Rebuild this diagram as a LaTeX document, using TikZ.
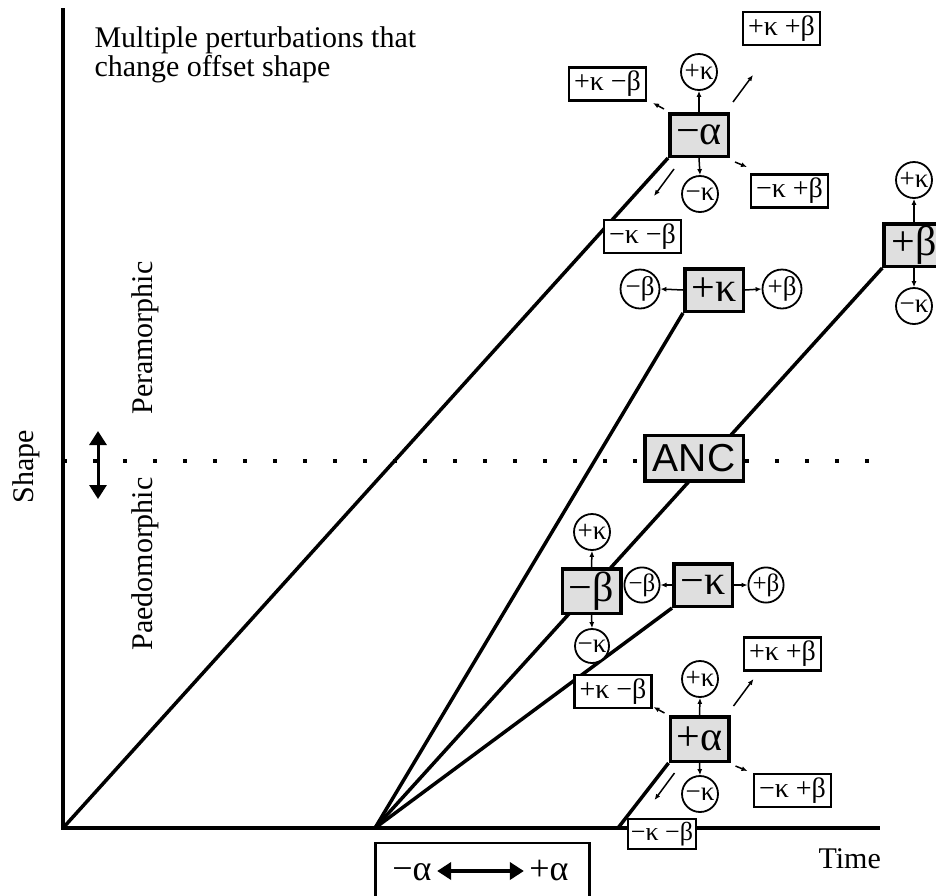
\documentclass[tikz,border=0pt]{standalone}
\usepackage{fontspec}
\setmainfont{Liberation Serif}
\newfontfamily\ancfont{Liberation Sans}
\usetikzlibrary{arrows.meta,calc,backgrounds}
\begin{document}
\begin{tikzpicture}[x=1pt,y=-1pt,
  bigbox/.style={draw=black, line width=3.5pt, fill=gray!25, minimum width=58.5pt, minimum height=42.5pt, inner sep=0pt, font=\fontsize{42}{42}\selectfont},
  combo/.style={draw=black, line width=2.2pt, fill=white, minimum width=77pt, minimum height=33pt, inner sep=0pt, font=\fontsize{28}{28}\selectfont},
  circ/.style={circle, draw=black, line width=1.8pt, fill=white, minimum size=36pt, inner sep=0pt, font=\fontsize{27}{27}\selectfont},
  axisline/.style={line width=4.5pt},
  traj/.style={line width=3.5pt},
  sarr/.style={line width=1.5pt, -{Latex[length=6pt,width=5pt]}},
  lbl/.style={font=\fontsize{30}{29}\selectfont},
  dotl/.style={line width=4pt, dash pattern=on 4pt off 26pt},
  dblarr/.style={{Triangle[length=14pt,width=17pt]}-{Triangle[length=14pt,width=17pt]}},
]
\useasboundingbox (0,0) rectangle (936,895);

% coordinates
\coordinate (top) at (63,8);
\coordinate (O) at (63,828);
\coordinate (xend) at (880,828);
\coordinate (F) at (375,828);
\coordinate (A2) at (618,828);
\coordinate (d0) at (63,461);
\coordinate (d1) at (872,461);
\coordinate (u1) at (98,431);
\coordinate (u2) at (98,499);

% labels
\node[lbl, anchor=base west] (title1) at (91,47) {Multiple perturbations that};
\node[lbl, anchor=base west] (title2) at (91,76) {change offset shape};
\node[lbl, anchor=base west] (time) at (815,868) {Time};
\node[lbl, rotate=90, anchor=base] (shape) at (33,467) {Shape};
\node[lbl, rotate=90, anchor=base] (pera) at (152,338) {Peramorphic};
\node[lbl, rotate=90, anchor=base] (paedo) at (152,564) {Paedomorphic};

% ANC
\node[bigbox, minimum width=98.5pt, minimum height=45.5pt, font=\ancfont\fontsize{39}{39}\selectfont] (anc) at (694,458) {ANC};

% -alpha cluster
\node[bigbox] (ma) at (699,135) {−α};
\node[circ] (ma-pk) at (699,72) {+κ};
\node[circ] (ma-mk) at (700,194) {−κ};
\node[combo] (ma-pkmb) at (607.5,84) {+κ −β};
\node[combo] (ma-pkpb) at (781.5,28.5) {+κ +β};
\node[combo] (ma-mkpb) at (789.5,191) {−κ +β};
\node[combo] (ma-mkmb) at (642.5,236.5) {−κ −β};

% +beta cluster
\node[bigbox, minimum width=60pt] (pb) at (914,245) {+β};
\node[circ] (pb-pk) at (914,180) {+κ};
\node[circ] (pb-mk) at (914,306) {−κ};

% +kappa cluster
\node[bigbox] (pk) at (714,290) {+κ};
\node[circ, minimum size=39pt] (pk-mb) at (640,289) {−β};
\node[circ, minimum size=39pt] (pk-pb) at (782,289) {+β};

% -beta cluster
\node[bigbox, minimum height=44.5pt] (mb) at (591.5,591) {−β};
\node[circ] (mb-pk) at (592,532) {+κ};
\node[circ, minimum size=34pt] (mb-mk) at (592,646) {−κ};

% -kappa cluster
\node[bigbox] (mk) at (703,585) {−κ};
\node[circ, minimum size=33pt, font=\fontsize{25}{25}\selectfont] (mk-mb) at (642,585) {−β};
\node[circ, minimum size=34pt, font=\fontsize{25}{25}\selectfont] (mk-pb) at (766,585) {+β};

% +alpha cluster
\node[bigbox, minimum height=44.5pt] (pa) at (699.5,739) {+α};
\node[circ] (pa-pk) at (700,679) {+κ};
\node[circ] (pa-mk) at (700,794) {−κ};
\node[combo] (pa-pkmb) at (613,691.5) {+κ −β};
\node[combo] (pa-pkpb) at (782.5,654) {+κ +β};
\node[combo] (pa-mkpb) at (792.5,790.5) {−κ +β};
\node[combo, minimum width=68pt, minimum height=30pt, font=\fontsize{26}{26}\selectfont] (pa-mkmb) at (662,834) {−κ −β};

% bottom legend
\node[draw=black, line width=2.5pt, fill=white, minimum width=214pt, minimum height=90pt] (leg) at (482.5,888) {};
\node[font=\fontsize{36}{36}\selectfont, anchor=base] (legm) at (412,880) {−α};
\node[font=\fontsize{36}{36}\selectfont, anchor=base] (legp) at (549,880) {+α};
\draw[line width=4pt, dblarr, shorten <=2pt, shorten >=2pt] (legm.east |- 0,871) -- (legp.west |- 0,871);

% left double arrow
\draw[line width=3pt, dblarr] (u1) -- (u2);

% small arrows: vertical / horizontal
\draw[sarr] (ma.north) -- (ma-pk.south);
\draw[sarr] (ma.south) -- (ma-mk.north);
\draw[sarr] (pb.north) -- (pb-pk.south);
\draw[sarr] (pb.south) -- (pb-mk.north);
\draw[sarr] (pk.west) -- (pk-mb.east);
\draw[sarr] (pk.east) -- (pk-pb.west);
\draw[sarr] (mb.north) -- (mb-pk.south);
\draw[sarr] (mb.south) -- (mb-mk.north);
\draw[sarr] (mk.west) -- (mk-mb.east);
\draw[sarr] (mk.east) -- (mk-pb.west);
\draw[sarr] (pa.north) -- (pa-pk.south);
\draw[sarr] (pa.south) -- (pa-mk.north);

% small diagonal arrows
\foreach \b in {ma,pa}{
  \draw[sarr] ($(\b.center)+(-35,-26)$) -- ++(-11,-6);
  \draw[sarr] ($(\b.center)+(34,-33)$) -- ++(20,-27);
  \draw[sarr] ($(\b.center)+(36,27)$) -- ++(12,5);
  \draw[sarr] ($(\b.center)+(-25,34)$) -- ++(-20,27);
}

\begin{scope}[on background layer]
  \draw[axisline] (top) -- (O) -- (xend);
  \draw[dotl] (d0) -- (d0 -| anc.west);
  \draw[dotl] (anc.east |- d0) -- (d1);
  \draw[traj] (O) -- (ma.south west);
  \draw[traj] (F) -- (pk.south west);
  \draw[traj] (F) -- (pb.south west);
  \draw[traj] (F) -- (mk.south west);
  \draw[traj] (A2) -- (pa.south west);
\end{scope}
\end{tikzpicture}
\end{document}
